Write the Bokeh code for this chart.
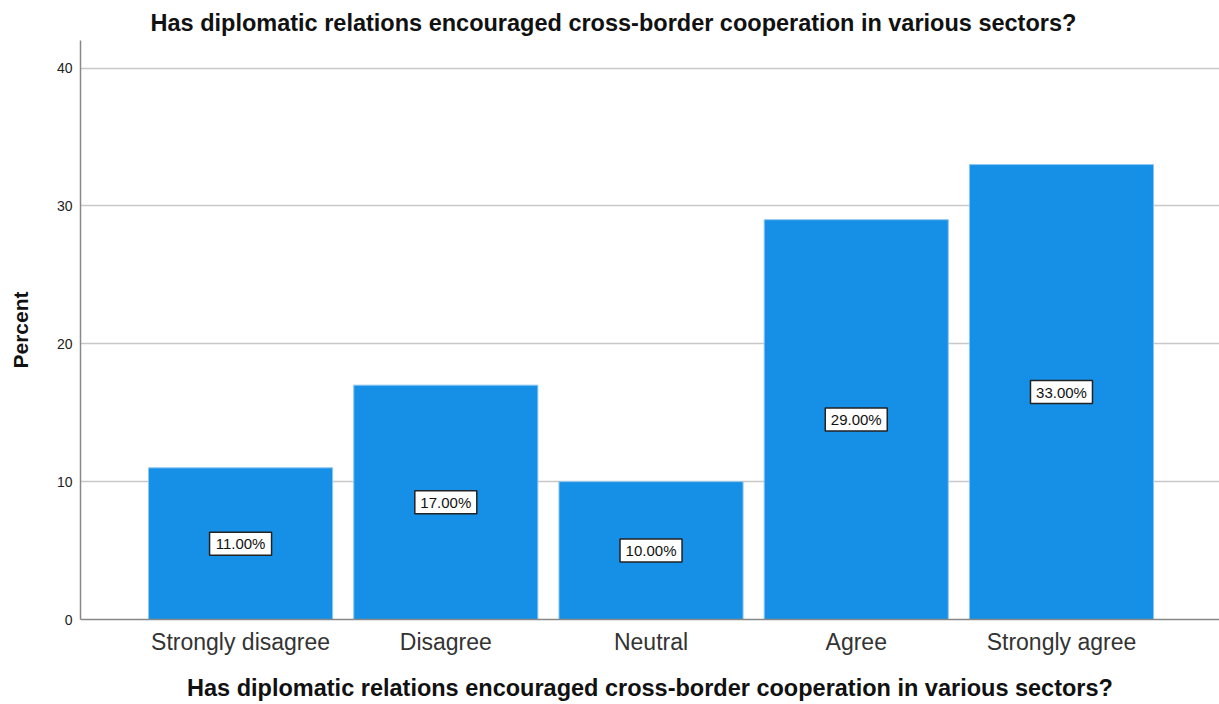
from bokeh.plotting import figure
from bokeh.models import ColumnDataSource, FixedTicker, Range1d, Title
from bokeh.core.properties import value
from bokeh.embed import file_html
from bokeh.resources import INLINE

categories = ["Strongly disagree", "Disagree", "Neutral", "Agree", "Strongly agree"]
percents = [11.0, 17.0, 10.0, 29.0, 33.0]
y_ticks = [0, 10, 20, 30, 40]
question = "Has diplomatic relations encouraged cross-border cooperation in various sectors?"

xs = list(range(1, len(categories) + 1))
src = ColumnDataSource(dict(
    x=xs, top=percents, mid=[v / 2 for v in percents],
    lab=["%.2f%%" % v for v in percents]))

p = figure(width=1219, height=704, output_backend="svg", toolbar_location=None,
           x_range=Range1d(0.22, 5.77), y_range=Range1d(0, 42),
           min_border_left=80, min_border_right=0, min_border_top=40, min_border_bottom=85)
p.title = None
p.add_layout(Title(text=question, align="left", offset=70, standoff=10,
                   text_font="Liberation Sans", text_font_size="23.5px",
                   text_font_style="bold", text_color="#111111"), "above")
p.outline_line_color = None

p.vbar(x="x", top="top", width=0.897, source=src, fill_color="#1590e6",
       line_color="#8cc6f2", line_width=1)

p.rect(x="x", y="mid", width=62, height=23, width_units="screen", height_units="screen",
       source=src, fill_color="white", line_color="#222222", line_width=1.5)
p.text(x="x", y="mid", text="lab", source=src, text_align="center",
       text_baseline="middle", text_font=value("Liberation Sans"), text_font_size="15px",
       text_color="#111111")

p.xaxis.ticker = FixedTicker(ticks=xs)
p.xaxis.major_label_overrides = {x: c for x, c in zip(xs, categories)}
p.xaxis.major_label_text_font = "Liberation Sans"
p.xaxis.major_label_text_font_size = "23px"
p.xaxis.major_label_text_color = "#333333"
p.xaxis.major_label_standoff = 3
p.xaxis.major_tick_line_color = None
p.xaxis.minor_tick_line_color = None
p.xaxis.axis_line_color = "#888888"
p.xaxis.axis_line_width = 1.5
p.xaxis.axis_label = question
p.xaxis.axis_label_text_font = "Liberation Sans"
p.xaxis.axis_label_text_font_size = "23.5px"
p.xaxis.axis_label_text_font_style = "bold"
p.xaxis.axis_label_text_color = "#111111"
p.xaxis.axis_label_standoff = 17

p.yaxis.ticker = FixedTicker(ticks=y_ticks)
p.yaxis.major_label_text_font = "Liberation Sans"
p.yaxis.major_label_text_font_size = "14px"
p.yaxis.major_label_text_color = "#222222"
p.yaxis.major_tick_line_color = None
p.yaxis.minor_tick_line_color = None
p.yaxis.axis_line_color = "#888888"
p.yaxis.axis_line_width = 1.5
p.yaxis.major_label_standoff = 2
p.yaxis.axis_label = "Percent"
p.yaxis.axis_label_text_font = "Liberation Sans"
p.yaxis.axis_label_text_font_size = "21px"
p.yaxis.axis_label_text_font_style = "bold"
p.yaxis.axis_label_text_color = "#111111"
p.yaxis.axis_label_standoff = 22

p.xgrid.grid_line_color = None
p.ygrid.grid_line_color = "#c8c8c8"
p.ygrid.grid_line_width = 1.5

open("out.html", "w").write(file_html(p, INLINE))
